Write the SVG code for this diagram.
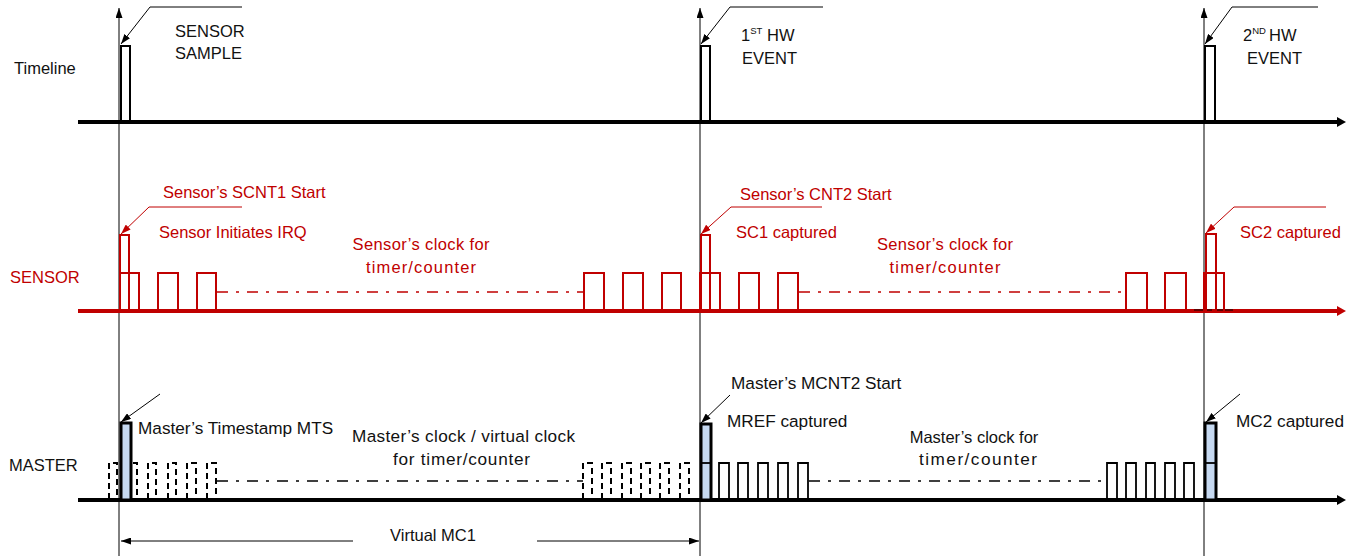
<svg xmlns="http://www.w3.org/2000/svg" width="1347" height="556" viewBox="0 0 1347 556">
<style>
text{font-family:"Liberation Sans",Arial,sans-serif;font-size:16.5px;fill:#111}
.r{fill:#C00000}
.m{font-size:17.2px}
.mid{text-anchor:middle}
.axis{stroke:#000;stroke-width:4;fill:none}
.raxis{stroke:#C00000;stroke-width:4;fill:none}
.vline{stroke:#000;stroke-width:1;fill:none}
.tp{fill:none;stroke:#000;stroke-width:2}
.rp{fill:none;stroke:#C00000;stroke-width:2}
.rdd{fill:none;stroke:#C00000;stroke-width:1.3;stroke-dasharray:11 8 3 8}
.dd{fill:none;stroke:#000;stroke-width:1.3;stroke-dasharray:11 8 3 8}
.mp{fill:none;stroke:#000;stroke-width:1.8}
.mpd{fill:none;stroke:#000;stroke-width:2;stroke-dasharray:6 4}
.blue{fill:#C6D9F1;stroke:#000;stroke-width:3}
.co{fill:none;stroke:#000;stroke-width:1}
.rco{fill:none;stroke:#C00000;stroke-width:1}
</style>
<defs>
<marker id="ah" viewBox="0 0 10 7" refX="10" refY="3.5" markerWidth="10" markerHeight="7" orient="auto" markerUnits="userSpaceOnUse"><path d="M0,0 L10,3.5 L0,7 z" fill="#000"/></marker>
<marker id="rah" viewBox="0 0 10 7" refX="10" refY="3.5" markerWidth="10" markerHeight="7" orient="auto" markerUnits="userSpaceOnUse"><path d="M0,0 L10,3.5 L0,7 z" fill="#C00000"/></marker>
<marker id="axh" viewBox="0 0 9 10" refX="2" refY="5" markerWidth="9" markerHeight="10" orient="auto" markerUnits="userSpaceOnUse"><path d="M0,0 L9,5 L0,10 z" fill="#000"/></marker>
<marker id="raxh" viewBox="0 0 9 10" refX="2" refY="5" markerWidth="9" markerHeight="10" orient="auto" markerUnits="userSpaceOnUse"><path d="M0,0 L9,5 L0,10 z" fill="#C00000"/></marker>
</defs>

<g id="connectors">
<line class="vline" x1="119" y1="556" x2="119" y2="8" marker-end="url(#ah)"/>
<line class="vline" x1="700" y1="556" x2="700" y2="8" marker-end="url(#ah)"/>
<line class="vline" x1="1204" y1="556" x2="1204" y2="8" marker-end="url(#ah)"/>
<line class="co" x1="353" y1="541" x2="121" y2="541" marker-end="url(#ah)"/>
<line class="co" x1="537" y1="541" x2="699" y2="541" marker-end="url(#ah)"/>
<polyline class="co" points="242,7 150,7 121,44" marker-end="url(#ah)"/>
<polyline class="co" points="823,7 730,7 701,44" marker-end="url(#ah)"/>
<polyline class="co" points="1318,7 1232,7 1205,44" marker-end="url(#ah)"/>
<polyline class="rco" points="242,207 149,207 121,234" marker-end="url(#rah)"/>
<polyline class="rco" points="822,207 731,207 701,234" marker-end="url(#rah)"/>
<polyline class="rco" points="1326,207 1234,207 1206,233" marker-end="url(#rah)"/>
<polyline class="co" points="160,394 121,422" marker-end="url(#ah)"/>
<polyline class="co" points="730,395 701,423" marker-end="url(#ah)"/>
<polyline class="co" points="1240,394 1206,422" marker-end="url(#ah)"/>
</g>

<g id="timeline">
<text x="14" y="74">Timeline</text>
<line class="axis" x1="78" y1="122" x2="1339" y2="122" marker-end="url(#axh)"/>
<path class="tp" d="M121,122 V46 H130 V122"/>
<path class="tp" d="M701,122 V46 H710 V122"/>
<path class="tp" d="M1205,122 V46 H1215 V122"/>
<text x="175" y="37">SENSOR</text>
<text x="175" y="59">SAMPLE</text>
<text x="741" y="41">1<tspan font-size="9.5" dy="-7">ST</tspan><tspan x="767" dy="7">HW</tspan></text>
<text x="742" y="64">EVENT</text>
<text x="1243" y="41">2<tspan font-size="9.5" dy="-7">ND</tspan><tspan x="1269" dy="7">HW</tspan></text>
<text x="1247" y="64">EVENT</text>
</g>

<g id="sensor">
<text class="r" x="10" y="283">SENSOR</text>
<line class="raxis" x1="78" y1="311" x2="1339" y2="311" marker-end="url(#raxh)"/>
<line x1="1194" y1="310" x2="1233" y2="310" stroke="#000" stroke-width="1" stroke-dasharray="18 4"/>
<path class="rp" d="M120,311 V235 H129 V311"/>
<path class="rp" d="M701,311 V235 H710 V311"/>
<path class="rp" d="M1206,311 V234 H1216 V311"/>
<path class="rp" d="M120,311 V273 H139 V311 M158,311 V273 H178 V311 M197,311 V273 H216 V311"/>
<path class="rp" d="M584,311 V273 H604 V311 M623,311 V273 H643 V311 M662,311 V273 H681 V311 M700,311 V273 H720 V311 M739,311 V273 H759 V311 M778,311 V273 H798 V311"/>
<path class="rp" d="M1126,311 V273 H1147 V311 M1165,311 V273 H1186 V311 M1204,311 V273 H1224 V311"/>
<line class="rdd" x1="217" y1="292" x2="584" y2="292"/>
<line class="rdd" x1="799" y1="292" x2="1126" y2="292"/>
<text class="r" x="163" y="198">Sensor’s SCNT1 Start</text>
<text class="r" x="159" y="238">Sensor Initiates IRQ</text>
<text class="r mid" x="421" y="250" textLength="137">Sensor’s clock for</text>
<text class="r mid" x="421" y="273" textLength="110">timer/counter</text>
<text class="r" x="740" y="200">Sensor’s CNT2 Start</text>
<text class="r" x="736" y="238">SC1 captured</text>
<text class="r mid" x="945" y="250" textLength="136">Sensor’s clock for</text>
<text class="r mid" x="945" y="273" textLength="111">timer/counter</text>
<text class="r" x="1240" y="238">SC2 captured</text>
</g>

<g id="master">
<text x="9" y="471">MASTER</text>
<line class="axis" x1="78" y1="500" x2="1339" y2="500" marker-end="url(#axh)"/>
<path class="mpd" d="M109,499 V463 H117 V499 M129,499 V463 H137 V499 M148,499 V463 H156 V499 M168,499 V463 H176 V499 M187,499 V463 H196 V499 M207,499 V463 H216 V499"/>
<path class="mpd" d="M583,499 V463 H592 V499 M602,499 V463 H611 V499 M622,499 V463 H631 V499 M641,499 V463 H650 V499 M660,499 V463 H669 V499 M680,499 V463 H689 V499"/>
<line class="dd" x1="217" y1="481" x2="583" y2="481"/>
<line class="dd" x1="809" y1="481" x2="1107" y2="481"/>
<rect class="blue" x="121" y="423" width="10" height="77"/>
<rect class="blue" x="701" y="424" width="10" height="76"/>
<line class="mp" x1="701" y1="463" x2="711" y2="463"/>
<path class="mp" d="M719,499 V463 H729 V499 M738,499 V463 H748 V499 M758,499 V463 H768 V499 M778,499 V463 H788 V499 M798,499 V463 H808 V499"/>
<path class="mp" d="M1107,499 V463 H1117 V499 M1126,499 V463 H1136 V499 M1146,499 V463 H1155 V499 M1165,499 V463 H1175 V499 M1184,499 V463 H1194 V499"/>
<rect class="blue" x="1205" y="423" width="11" height="77"/>
<line class="mp" x1="1205" y1="463" x2="1216" y2="463"/>
<text class="m" x="138" y="434">Master’s Timestamp MTS</text>
<text class="m mid" x="463.5" y="442" textLength="223">Master’s clock / virtual clock</text>
<text class="m mid" x="461.5" y="465" textLength="137">for timer/counter</text>
<text class="m" x="731" y="389">Master’s MCNT2 Start</text>
<text class="m" x="727" y="427">MREF captured</text>
<text class="mid" x="974" y="443">Master’s clock for</text>
<text class="m mid" x="978" y="465" textLength="118">timer/counter</text>
<text class="m" x="1236" y="427">MC2 captured</text>
</g>

<g id="span-label">
<text class="mid" x="433" y="541">Virtual MC1</text>
</g>
</svg>
